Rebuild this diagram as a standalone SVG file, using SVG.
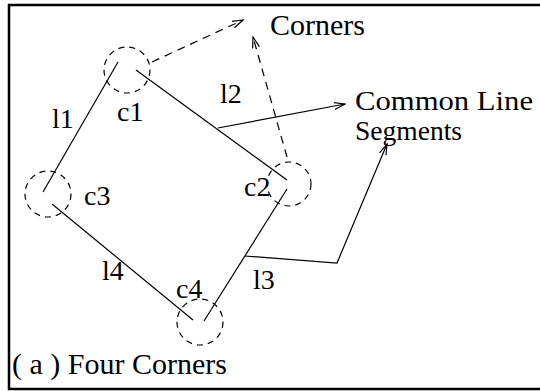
<svg xmlns="http://www.w3.org/2000/svg" width="540" height="391" viewBox="0 0 540 391">
<style>
text{font-family:"Liberation Serif","Times New Roman",serif;fill:#000;font-size:28px}
.big{font-size:30px}
.cm{font-size:27px}
.ln{stroke:#000;stroke-width:1.2;fill:none}
.dc{stroke:#000;stroke-width:1.2;fill:none;stroke-dasharray:6 5}
.da{stroke:#000;stroke-width:1.2;fill:none;stroke-dasharray:8 6}
</style>
<defs>
<marker id="ah" markerWidth="12" markerHeight="8" refX="11" refY="4" orient="auto" markerUnits="userSpaceOnUse">
<path d="M0,0.5 L11,4 L0,7.5" fill="none" stroke="#000" stroke-width="1.2"/>
</marker>
</defs>
<rect x="9" y="5" width="540" height="384" fill="#fff" stroke="#000" stroke-width="2.5"/>
<g id="edges">
<line class="ln" x1="118" y1="62" x2="43" y2="192"/>
<line class="ln" x1="136" y1="70" x2="287" y2="180"/>
<line class="ln" x1="287" y1="189" x2="204" y2="321"/>
<line class="ln" x1="52" y1="204" x2="193" y2="320"/>
<line class="da" x1="152" y1="62" x2="243" y2="20" marker-end="url(#ah)"/>
<line class="da" x1="287" y1="157" x2="253" y2="37" marker-end="url(#ah)"/>
<line class="ln" x1="218" y1="128" x2="345" y2="104" marker-end="url(#ah)"/>
<polyline class="ln" points="245,256 337,263 387,144" marker-end="url(#ah)"/>
</g>
<g id="c1"><circle class="dc" cx="127" cy="70" r="23"/><text x="117" y="121">c1</text></g>
<g id="c2"><circle class="dc" cx="289" cy="184" r="22"/><text x="244" y="196">c2</text></g>
<g id="c3"><circle class="dc" cx="48" cy="194" r="23"/><text x="84" y="205">c3</text></g>
<g id="c4"><circle class="dc" cx="200" cy="322" r="23"/><text x="176" y="298">c4</text></g>
<g id="labels">
<text x="52" y="128">l1</text>
<text x="220" y="103">l2</text>
<text x="253" y="289">l3</text>
<text x="102" y="280">l4</text>
</g>
<g id="corners"><text class="big" x="270" y="35">Corners</text></g>
<g id="common"><text class="cm" x="355" y="110" textLength="178" lengthAdjust="spacingAndGlyphs">Common Line</text><text class="cm" x="355" y="140" textLength="107" lengthAdjust="spacingAndGlyphs">Segments</text></g>
<g id="caption"><text class="big" x="12" y="374">( a ) Four Corners</text></g>
</svg>
